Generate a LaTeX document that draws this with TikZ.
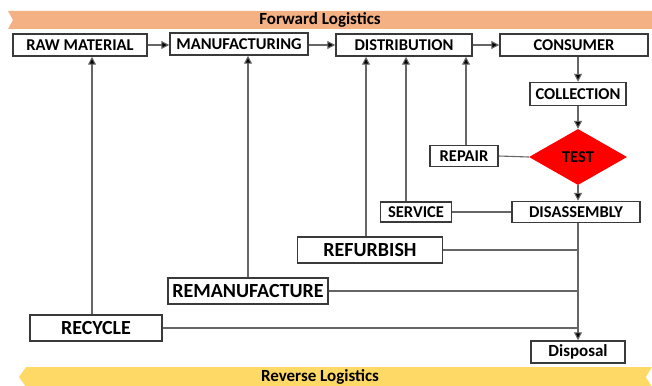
\documentclass[tikz,border=0pt]{standalone}
\usepackage{fontspec}
\setmainfont{Carlito}
\usetikzlibrary{arrows.meta, shapes.geometric}

\definecolor{fwdband}{HTML}{F4B183}
\definecolor{revband}{HTML}{FFD966}
\definecolor{linegray}{HTML}{666666}
\definecolor{boxgray}{HTML}{3A3A3A}

\begin{document}
\begin{tikzpicture}[
    x=1pt, y=-1pt,
    stagebox/.style={draw=boxgray, line width=1.5pt, fill=white, inner sep=0pt, align=center, font=\bfseries\fontsize{16.5}{18}\selectfont},
    bigbox/.style={stagebox, font=\bfseries\fontsize{20}{22}\selectfont},
    bandtext/.style={font=\bfseries\fontsize{17}{19}\selectfont},
    flow/.style={-{Triangle[length=2.8mm, width=2.8mm, fill=black]}, draw=linegray, line width=1.1pt},
    link/.style={draw=linegray, line width=1.1pt}
]
    \useasboundingbox (0,0) rectangle (652,385);

    % banners
    \fill[fwdband] (8,11) -- (652,11) -- (652,29) -- (8,29) -- (13,20) -- cycle;
    \node[bandtext] (fwd) at (320,20) {Forward Logistics};
    \fill[revband] (26,367) -- (656,367) -- (656,387) -- (26,387) -- (19,377) -- cycle;
    \fill[white] (652,367) -- (646,377) -- (652,387) -- cycle;
    \node[bandtext] (rev) at (320,377) {Reverse Logistics};

    % forward chain
    \node[stagebox, minimum width=134pt, minimum height=22pt] (raw) at (80,45) {RAW MATERIAL};
    \node[stagebox, minimum width=138pt, minimum height=22pt] (manu) at (239,44) {MANUFACTURING};
    \node[stagebox, minimum width=136pt, minimum height=22pt] (dist) at (404,45) {DISTRIBUTION};
    \node[stagebox, minimum width=148pt, minimum height=22pt] (cons) at (574,45) {CONSUMER};

    % reverse chain
    \node[stagebox, minimum width=96pt, minimum height=23pt] (coll) at (578,94) {COLLECTION};
    \node[diamond, fill=red, inner sep=0pt, minimum width=98pt, minimum height=56pt, font=\bfseries\fontsize{16.5}{18}\selectfont] (test) at (578,157) {TEST};
    \node[stagebox, minimum width=68pt, minimum height=21pt] (repair) at (464,156) {REPAIR};
    \node[stagebox, minimum width=128pt, minimum height=21pt] (disasm) at (576,212) {DISASSEMBLY};
    \node[stagebox, minimum width=71pt, minimum height=20pt] (service) at (416,212) {SERVICE};
    \node[bigbox, minimum width=145pt, minimum height=26pt] (refurb) at (370,250) {REFURBISH};
    \node[bigbox, minimum width=160pt, minimum height=26pt] (reman) at (248,291) {REMANUFACTURE};
    \node[bigbox, minimum width=132pt, minimum height=26pt] (recyc) at (96,328) {RECYCLE};
    \node[stagebox, minimum width=94pt, minimum height=22pt, font=\bfseries\fontsize{17}{19}\selectfont] (disp) at (578,352) {Disposal};

    % forward arrows
    \draw[flow] (raw.east) -- (manu.west |- raw.east);
    \draw[flow] (manu.east |- dist.west) -- (dist.west);
    \draw[flow] (dist.east) -- (cons.west);

    % down the reverse side
    \draw[flow] (cons.south -| coll.north) -- (coll.north);
    \draw[flow] (coll.south) -- (test.north);
    \draw[flow] (test.south) -- (disasm.north -| test.south);
    \draw[flow] (disasm.south -| disp.north) -- (disp.north);

    % back into the forward chain
    \draw[link] (repair.east) -- (test.west);
    \draw[flow] ([xshift=2pt]repair.north) -- ([xshift=2pt]repair.north |- dist.south);
    \draw[link] (service.east) -- (disasm.west);
    \draw[flow] ([xshift=-10pt]service.north) -- ([xshift=-10pt]service.north |- dist.south);
    \draw[flow] ([xshift=-4pt]refurb.north) -- ([xshift=-4pt]refurb.north |- dist.south);
    \draw[link] (refurb.east) -- (refurb.east -| disp.north);
    \draw[flow] (reman.north) -- (reman.north |- manu.south);
    \draw[link] (reman.east) -- (reman.east -| disp.north);
    \draw[flow] ([xshift=-4pt]recyc.north) -- ([xshift=-4pt]recyc.north |- raw.south);
    \draw[link] (recyc.east) -- (recyc.east -| disp.north);
\end{tikzpicture}
\end{document}
